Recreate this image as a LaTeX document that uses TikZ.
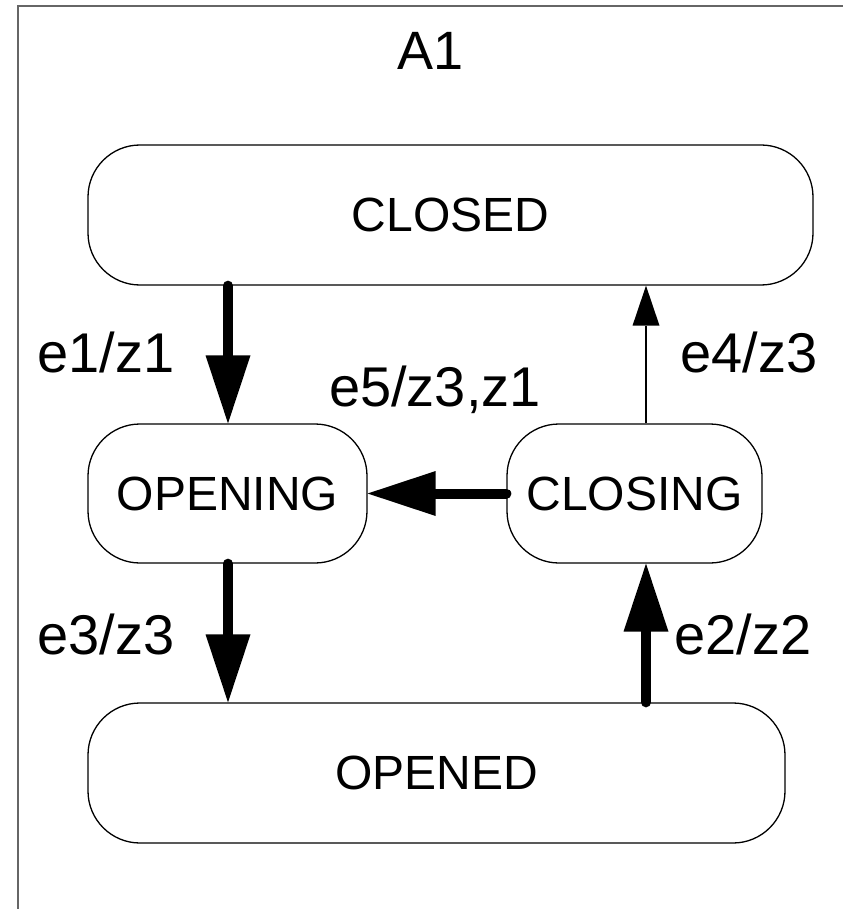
\documentclass[tikz,border=0pt]{standalone}
\usepackage{fontspec}
\setmainfont{Liberation Sans}
\usetikzlibrary{arrows.meta}
\begin{document}
\begin{tikzpicture}[x=1pt,y=-1pt,
  statebox/.style={draw=black,line width=1.3pt,rounded corners=52pt,inner sep=0pt,font=\fontsize{48}{58}\selectfont},
  lbl/.style={font=\fontsize{56}{66}\selectfont,inner sep=0pt},
  bigarrow/.style={line width=10pt,line cap=round,-{Triangle[length=68pt,width=45pt,line width=0pt]}},
  thinarrow/.style={line width=1.2pt,-{Triangle[length=40pt,width=27pt,line width=0pt]}},
  frameline/.style={draw=black!60,line width=2.2pt}]
\useasboundingbox (0,0) rectangle (843,909);
\draw[frameline] (18,909) -- (18,6) -- (843,6);
\node[lbl,font=\fontsize{54}{64}\selectfont] (title) at (431,51) {A1};
\node[statebox,minimum width=725pt,minimum height=140pt] (closed) at (450.5,215) {CLOSED};
\node[statebox,minimum width=279pt,minimum height=139pt] (opening) at (227.5,493.5) {OPENING};
\node[statebox,minimum width=255pt,minimum height=139pt] (closing) at (634.5,493.5) {CLOSING};
\node[statebox,minimum width=697pt,minimum height=140pt] (opened) at (436.5,773) {OPENED};
\coordinate (xl) at (228,0);
\coordinate (xr) at (646,0);
\draw[bigarrow] (xl |- closed.south) -- (xl |- opening.north);
\draw[bigarrow] (xl |- opening.south) -- (xl |- opened.north);
\draw[bigarrow] (xr |- opened.north) -- (xr |- closing.south);
\draw[thinarrow] (xr |- closing.north) -- (xr |- closed.south);
\draw[bigarrow] (closing.west) -- (opening.east);
\node[lbl] (l1) at (106,352) {e1/z1};
\node[lbl] (l4) at (749,352) {e4/z3};
\node[lbl] (l5) at (435,390) {e5/z3,z1};
\node[lbl] (l3) at (106,634) {e3/z3};
\node[lbl] (l2) at (743,634) {e2/z2};
\end{tikzpicture}
\end{document}
